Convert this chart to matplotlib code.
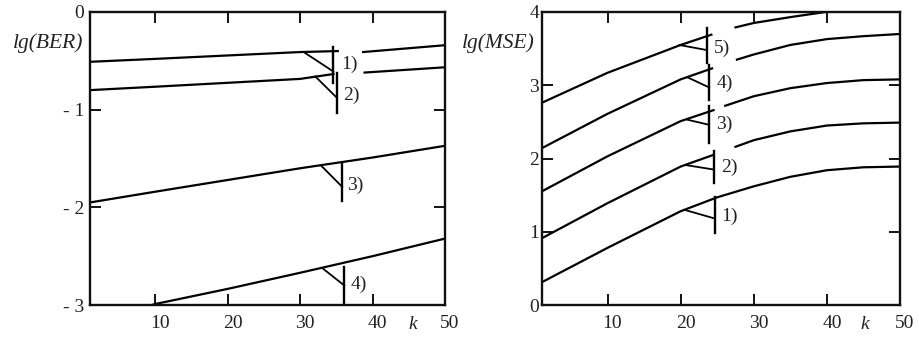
import numpy as np
import matplotlib
matplotlib.use('Agg')
import matplotlib.pyplot as plt
from matplotlib.transforms import ScaledTranslation, blended_transform_factory

plt.rcParams['font.family'] = ['Liberation Serif', 'DejaVu Serif']

nan = np.nan

# ---------------- Left panel: lg(BER) vs k ----------------
ber_k1 = [1, 10, 20, 30, 35.2, nan, 38.7, 50]
ber_1 = [-0.51, -0.48, -0.445, -0.41, -0.40, nan, -0.41, -0.34]
ber_k2 = [1, 10, 20, 30, 34.6, nan, 38.9, 50]
ber_2 = [-0.80, -0.765, -0.725, -0.685, -0.635, nan, -0.62, -0.566]
ber_k3 = [1, 10, 20, 30, 40, 50]
ber_3 = [-1.95, -1.84, -1.72, -1.60, -1.49, -1.37]
ber_k4 = [8.6, 10, 20, 30, 40, 50]
ber_4 = [-3.02, -2.99, -2.835, -2.67, -2.50, -2.32]
ber_names = ["1)", "2)", "3)", "4)"]
ber_yticks = [0, -1, -2, -3]
ber_yticklabels = ["0", "- 1", "- 2", "- 3"]

# ---------------- Right panel: lg(MSE) vs k ----------------
mse_k1 = [1, 10, 20, 25, 30, 35, 40, 45, 50]
mse_1 = [0.31, 0.78, 1.28, 1.47, 1.62, 1.75, 1.84, 1.88, 1.89]
mse_k2 = [1, 10, 20, 24.5, nan, 27.5, 30, 35, 40, 45, 50]
mse_2 = [0.91, 1.39, 1.89, 2.05, nan, 2.16, 2.25, 2.37, 2.45, 2.48, 2.49]
mse_k3 = [1, 10, 20, 24.5, nan, 26.1, 30, 35, 40, 45, 50]
mse_3 = [1.55, 2.03, 2.51, 2.66, nan, 2.72, 2.85, 2.96, 3.03, 3.07, 3.08]
mse_k4 = [1, 10, 20, 24.3, nan, 27.7, 30, 35, 40, 45, 50]
mse_4 = [2.14, 2.61, 3.08, 3.23, nan, 3.35, 3.42, 3.55, 3.63, 3.67, 3.70]
mse_k5 = [1, 10, 20, 24.2, nan, 27.5, 30, 35, 39.8]
mse_5 = [2.76, 3.17, 3.55, 3.69, nan, 3.79, 3.85, 3.93, 4.0]
mse_names = ["1)", "2)", "3)", "4)", "5)"]
mse_yticks = [0, 1, 2, 3, 4]
mse_yticklabels = ["0", "1", "2", "3", "4"]

xticks = [10, 20, 30, 40, 50]

# label leaders: (diag start k, y), (diag end k, y), vertical top, vertical bottom, text (k, y)
ber_leaders = [
    ((30.7, -0.42), (34.6, -0.61), -0.355, -0.73, (35.7, -0.54)),
    ((32.1, -0.66), (35.1, -0.88), -0.627, -1.037, (36.0, -0.85)),
    ((33.0, -1.58), (35.8, -1.79), -1.545, -1.94, (36.5, -1.77)),
    ((33.2, -2.63), (36.1, -2.80), -2.607, -3.0, (37.0, -2.79)),
]
mse_leaders = [
    ((20.5, 1.30), (24.7, 1.18), 1.47, 0.98, (25.6, 1.21)),
    ((20.7, 1.91), (24.5, 1.85), 2.10, 1.66, (25.5, 1.88)),
    ((20.9, 2.53), (23.9, 2.46), 2.71, 2.21, (24.9, 2.47)),
    ((20.9, 3.11), (23.9, 2.97), 3.27, 2.80, (24.9, 3.03)),
    ((19.8, 3.55), (23.6, 3.48), 3.78, 3.30, (24.6, 3.50)),
]

fig = plt.figure(figsize=(9.2, 3.41), dpi=100)
axL = fig.add_axes([90 / 920, 36 / 341, 355 / 920, 293 / 341])
axR = fig.add_axes([541.7 / 920, 36 / 341, 358.3 / 920, 293 / 341])

FS = 14
FSL = 15.5
TXT = '#222222'
LW = 1.6


def style(ax, ylim, yticks, yticklabels, ylabel, ypad):
    ax.set_xlim(1, 50)
    ax.set_ylim(*ylim)
    ax.set_xticks(xticks)
    ax.set_yticks(yticks)
    ax.set_yticklabels(yticklabels)
    ax.tick_params(direction='in', top=True, right=True, length=8, width=1.4,
                   labelsize=FS, labelcolor=TXT, color='#111111')
    ax.tick_params(axis='x', pad=7.5)
    ax.tick_params(axis='y', pad=ypad)
    for s in ax.spines.values():
        s.set_linewidth(1.7)
        s.set_color('#111111')
    off = ScaledTranslation(5 / 100, 0, fig.dpi_scale_trans)
    for lab in ax.get_xticklabels():
        lab.set_transform(lab.get_transform() + off)
    ax.text(-0.02, 0.895, ylabel, transform=ax.transAxes, ha='right', va='center',
            fontsize=FSL, style='italic', color=TXT)


style(axL, (-3, 0), ber_yticks, ber_yticklabels, 'lg(BER)', 4)
style(axR, (0, 4), mse_yticks, mse_yticklabels, 'lg(MSE)', 2)

for kk, vv in [(ber_k1, ber_1), (ber_k2, ber_2), (ber_k3, ber_3), (ber_k4, ber_4)]:
    axL.plot(kk, vv, color='black', lw=LW, solid_joinstyle='round')
for kk, vv in [(mse_k1, mse_1), (mse_k2, mse_2), (mse_k3, mse_3), (mse_k4, mse_4), (mse_k5, mse_5)]:
    axR.plot(kk, vv, color='black', lw=LW, solid_joinstyle='round')


def leaders(ax, specs, names):
    for (p0, p1, vt, vb, tp), name in zip(specs, names):
        ax.plot([p0[0], p1[0]], [p0[1], p1[1]], color='black', lw=1.3)
        ax.plot([p1[0], p1[0]], [vt, vb], color='black', lw=1.7)
        ax.text(tp[0], tp[1], name, fontsize=FS, color=TXT, ha='left', va='center')


leaders(axL, ber_leaders, ber_names)
leaders(axR, mse_leaders, mse_names)

for ax, kx in [(axL, 45.6), (axR, 45.2)]:
    tr = blended_transform_factory(ax.transData, ax.transAxes)
    ax.text(kx, -0.066, 'k', transform=tr, ha='center', va='center',
            fontsize=FS, style='italic', color=TXT)

fig.savefig('out.png', dpi=100)
